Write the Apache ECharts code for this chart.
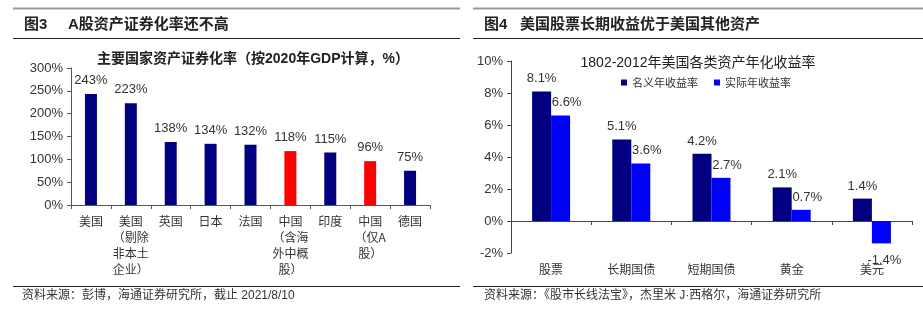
<!DOCTYPE html>
<html><head><meta charset="utf-8">
<script src="https://cdn.jsdelivr.net/npm/echarts@6/dist/echarts.min.js"></script>
<style>html,body{margin:0;padding:0;background:#fff}#c{width:923px;height:327px}</style>
</head><body><div id="c"></div>
<script>
// Left chart data
const leftCategories = ['美国', '美国\n（剔除\n非本土\n企业）', '英国', '日本', '法国', '中国\n（含海\n外中概\n股）', '印度', '中国\n（仅A\n股）', '德国'];
const leftValues = [243, 223, 138, 134, 132, 118, 115, 96, 75];
const leftHighlight = [false, false, false, false, false, true, false, true, false];
const leftTicks = ['0%', '50%', '100%', '150%', '200%', '250%', '300%'];
// Right chart data
const rightCategories = ['股票', '长期国债', '短期国债', '黄金', '美元'];
const nominalReturn = [8.1, 5.1, 4.2, 2.1, 1.4];
const realReturn = [6.6, 3.6, 2.7, 0.7, -1.4];
const seriesNames = ['名义年收益率', '实际年收益率'];

const NAVY = '#000080', RED = '#FF0000', BLUE = '#0000FF';
const FONT = '"Liberation Sans", "Noto Sans CJK SC", sans-serif';
const CJK = '"Noto Sans CJK SC", sans-serif';

const chart = echarts.init(document.getElementById('c'), null, {renderer: 'canvas'});

function rightData(arr) {
  return arr.map(v => v < 0 ? {value: v, label: {position: 'bottom', distance: 11, offset: [3, 0]}} : v);
}

const option = {
  backgroundColor: '#fff',
  animation: false,
  title: [
    {text: '主要国家资产证券化率（按2020年GDP计算，%）', left: 248, top: 47, textAlign: 'center',
     textStyle: {fontSize: 14, fontWeight: 'bold', color: '#222', fontFamily: FONT}},
    {text: '1802-2012年美国各类资产年化收益率', left: 693, top: 51, textAlign: 'center',
     textStyle: {fontSize: 14, fontWeight: 'normal', color: '#222', fontFamily: FONT}}
  ],
  legend: {
    data: seriesNames, left: 616, top: 72, itemWidth: 6, itemHeight: 6, itemGap: 16,
    icon: 'rect', textStyle: {fontSize: 11, color: '#333', fontFamily: CJK, padding: [0,0,0,0]}
  },
  grid: [
    {left: 71, right: 493, top: 68, bottom: 122},
    {left: 511, right: 11, top: 61, bottom: 74}
  ],
  xAxis: [
    {type: 'category', gridIndex: 0, data: leftCategories,
     axisLine: {lineStyle: {color: '#555'}}, axisTick: {show: true, length: 4, lineStyle: {color: '#555'}},
     axisLabel: {interval: 0, margin: 8, fontSize: 12, lineHeight: 16, color: '#333', fontFamily: CJK}},
    {type: 'category', gridIndex: 1, data: rightCategories,
     axisLine: {onZero: true, lineStyle: {color: '#444'}}, axisTick: {show: true, length: 4, lineStyle: {color: '#444'}},
     axisLabel: {interval: 0, margin: 10, fontSize: 12, color: '#333', fontFamily: CJK}}
  ],
  yAxis: [
    {type: 'value', gridIndex: 0, min: 0, max: 300, interval: 50,
     splitLine: {show: false},
     axisLine: {show: true, lineStyle: {color: '#555'}}, axisTick: {show: true, length: 4, lineStyle: {color: '#555'}},
     axisLabel: {margin: 8, fontSize: 13, color: '#333', fontFamily: FONT,
       formatter: v => leftTicks[Math.round(v / 50)]}},
    {type: 'value', gridIndex: 1, min: -2, max: 10, interval: 2,
     splitLine: {show: false},
     axisLine: {show: true, lineStyle: {color: '#444'}}, axisTick: {show: true, length: 4, lineStyle: {color: '#444'}},
     axisLabel: {margin: 8, fontSize: 13, color: '#333', fontFamily: FONT, formatter: v => v + '%'}}
  ],
  series: [
    {type: 'bar', xAxisIndex: 0, yAxisIndex: 0, barWidth: 12,
     data: leftValues.map((v, i) => ({value: v, itemStyle: {color: leftHighlight[i] ? RED : NAVY}})),
     label: {show: true, position: 'top', distance: 7, fontSize: 13, color: '#333', fontFamily: FONT, formatter: p => p.value + '%'}},
    {name: seriesNames[0], type: 'bar', xAxisIndex: 1, yAxisIndex: 1, barWidth: 19, barGap: '0%',
     itemStyle: {color: NAVY}, data: rightData(nominalReturn),
     label: {show: true, position: 'top', distance: 6, fontSize: 13, color: '#333', fontFamily: FONT, formatter: p => p.value.toFixed(1) + '%'}},
    {name: seriesNames[1], type: 'bar', xAxisIndex: 1, yAxisIndex: 1, barWidth: 19, barGap: '0%',
     itemStyle: {color: BLUE}, data: rightData(realReturn),
     label: {show: true, position: 'top', distance: 6, offset: [6, 0], fontSize: 13, color: '#333', fontFamily: FONT, formatter: p => p.value.toFixed(1) + '%'}}
  ],
  graphic: [
    {type: 'line', shape: {x1: 13, y1: 8.5, x2: 460, y2: 8.5}, style: {stroke: '#999', lineWidth: 2}},
    {type: 'line', shape: {x1: 473, y1: 8.5, x2: 923, y2: 8.5}, style: {stroke: '#999', lineWidth: 2}},
    {type: 'text', left: 24, top: 17, style: {text: '图3', font: 'bold 15px ' + FONT, fill: '#222'}},
    {type: 'text', left: 68, top: 17, style: {text: 'A股资产证券化率还不高', font: 'bold 15px ' + FONT, fill: '#222'}},
    {type: 'text', left: 484, top: 17, style: {text: '图4', font: 'bold 15px ' + FONT, fill: '#222'}},
    {type: 'text', left: 520, top: 17, style: {text: '美国股票长期收益优于美国其他资产', font: 'bold 15px ' + FONT, fill: '#222'}},
    {type: 'line', shape: {x1: 13, y1: 38.5, x2: 460, y2: 38.5}, style: {stroke: '#222', lineWidth: 1}},
    {type: 'line', shape: {x1: 473, y1: 38.5, x2: 923, y2: 38.5}, style: {stroke: '#222', lineWidth: 1}},
    {type: 'line', shape: {x1: 13, y1: 286.5, x2: 460, y2: 286.5}, style: {stroke: '#222', lineWidth: 1}},
    {type: 'line', shape: {x1: 473, y1: 286.5, x2: 923, y2: 286.5}, style: {stroke: '#222', lineWidth: 1}},
    {type: 'text', left: 22, top: 290, style: {text: '资料来源：彭博，海通证券研究所，截止 2021/8/10', font: '12px ' + FONT, fill: '#333'}},
    {type: 'text', left: 484, top: 290, style: {text: '资料来源：《股市长线法宝》，杰里米 J·西格尔，海通证券研究所', font: '12px ' + FONT, fill: '#333'}}
  ]
};
chart.setOption(option);
</script>
</body></html>
